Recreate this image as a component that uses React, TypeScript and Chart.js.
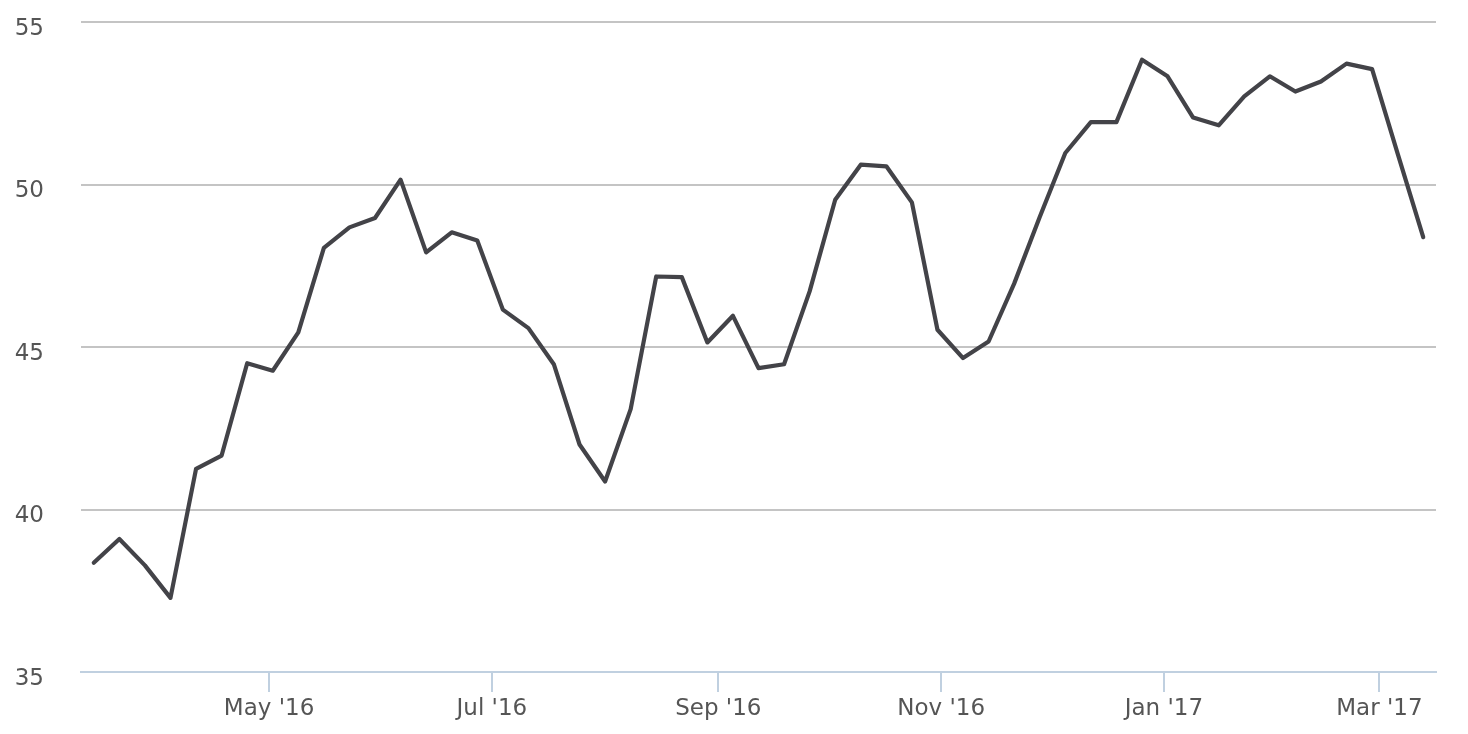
import React, { useEffect, useRef } from "react";
import { Chart, registerables } from "chart.js";

Chart.register(...registerables);

// Weekly observation dates (week starting)
const weekDates: string[] = [
  "2016-03-14", "2016-03-21", "2016-03-28", "2016-04-04", "2016-04-11", "2016-04-18", "2016-04-25",
  "2016-05-02", "2016-05-09", "2016-05-16", "2016-05-23", "2016-05-30", "2016-06-06", "2016-06-13",
  "2016-06-20", "2016-06-27", "2016-07-04", "2016-07-11", "2016-07-18", "2016-07-25", "2016-08-01",
  "2016-08-08", "2016-08-15", "2016-08-22", "2016-08-29", "2016-09-05", "2016-09-12", "2016-09-19",
  "2016-09-26", "2016-10-03", "2016-10-10", "2016-10-17", "2016-10-24", "2016-10-31", "2016-11-07",
  "2016-11-14", "2016-11-21", "2016-11-28", "2016-12-05", "2016-12-12", "2016-12-19", "2016-12-26",
  "2017-01-02", "2017-01-09", "2017-01-16", "2017-01-23", "2017-01-30", "2017-02-06", "2017-02-13",
  "2017-02-20", "2017-02-27", "2017-03-06", "2017-03-13",
];

const seriesValues: number[] = [
  38.36, 39.09, 38.28, 37.28, 41.25, 41.66, 44.5,
  44.27, 45.45, 48.05, 48.68, 48.97, 50.15, 47.91,
  48.53, 48.28, 46.15, 45.58, 44.46, 42.0, 40.86,
  43.09, 47.17, 47.15, 45.14, 45.96, 44.35, 44.47,
  46.71, 49.53, 50.61, 50.56, 49.45, 45.53, 44.66,
  45.17, 46.95, 49.0, 50.97, 51.92, 51.92, 53.84,
  53.33, 52.06, 51.82, 52.71, 53.33, 52.86, 53.17,
  53.72, 53.55, 50.95, 48.38,
];

const xTickDates: string[] = ["2016-05-01", "2016-07-01", "2016-09-01", "2016-11-01", "2017-01-01", "2017-03-01"];
const xTickLabels: string[] = ["May '16", "Jul '16", "Sep '16", "Nov '16", "Jan '17", "Mar '17"];
const yTickValues: number[] = [35, 40, 45, 50, 55];

const DAY = 86400000;
const FONT = "'DejaVu Sans', sans-serif";

export default function App() {
  const ref = useRef<HTMLCanvasElement | null>(null);

  useEffect(() => {
    document.body.style.margin = "0";
    const canvas = ref.current;
    if (!canvas) return;
    const xs = weekDates.map((d) => Date.parse(d));
    const tickXs = xTickDates.map((d) => Date.parse(d));
    const data = xs.map((x, i) => ({ x, y: seriesValues[i] }));

    const chart = new Chart(canvas, {
      type: "line",
      data: {
        datasets: [
          {
            data,
            borderColor: "#434348",
            borderWidth: 4.2,
            borderJoinStyle: "round",
            borderCapStyle: "round",
            pointRadius: 0,
            pointHoverRadius: 0,
            tension: 0,
            fill: false,
          },
        ],
      },
      options: {
        animation: false,
        responsive: false,
        events: [],
        layout: { padding: { left: 0, right: 32, top: 22, bottom: 0 } },
        plugins: { legend: { display: false }, tooltip: { enabled: false }, title: { display: false } },
        scales: {
          x: {
            type: "linear",
            min: xs[0] - 3.5 * DAY,
            max: xs[xs.length - 1] + 3.5 * DAY,
            afterBuildTicks: (axis: any) => {
              axis.ticks = tickXs.map((v) => ({ value: v }));
            },
            afterFit: (axis: any) => {
              axis.height = 62;
              axis.paddingLeft = 0;
              axis.paddingRight = 0;
            },
            ticks: {
              autoSkip: false,
              maxRotation: 0,
              padding: 3,
              color: "#555555",
              font: { family: FONT, size: 23 },
              callback: (value: any) => {
                const idx = tickXs.indexOf(Number(value));
                return idx >= 0 ? xTickLabels[idx] : "";
              },
            },
            grid: {
              display: true,
              drawOnChartArea: false,
              drawTicks: true,
              tickLength: 20,
              color: "#C0D0E0",
              lineWidth: 2,
            },
            border: { display: true, color: "#C0D0E0", width: 2 },
          },
          y: {
            type: "linear",
            min: 35,
            max: 55,
            afterBuildTicks: (axis: any) => {
              axis.ticks = yTickValues.map((v) => ({ value: v }));
            },
            afterFit: (axis: any) => {
              axis.width = 81;
              axis.paddingTop = 0;
              axis.paddingBottom = 0;
            },
            ticks: {
              padding: 37,
              labelOffset: 7,
              color: "#555555",
              font: { family: FONT, size: 23 },
              callback: (value: any) => String(value),
            },
            grid: {
              drawTicks: false,
              color: (ctx: any) => (ctx.tick && ctx.tick.value === 35 ? "rgba(0,0,0,0)" : "#C4C4C4"),
              lineWidth: 2,
            },
            border: { display: false },
          },
        },
      },
    });
    return () => chart.destroy();
  }, []);

  return (
    <div style={{ width: 1468, height: 734 }}>
      <canvas ref={ref} width={1468} height={734} style={{ display: "block" }} />
    </div>
  );
}
